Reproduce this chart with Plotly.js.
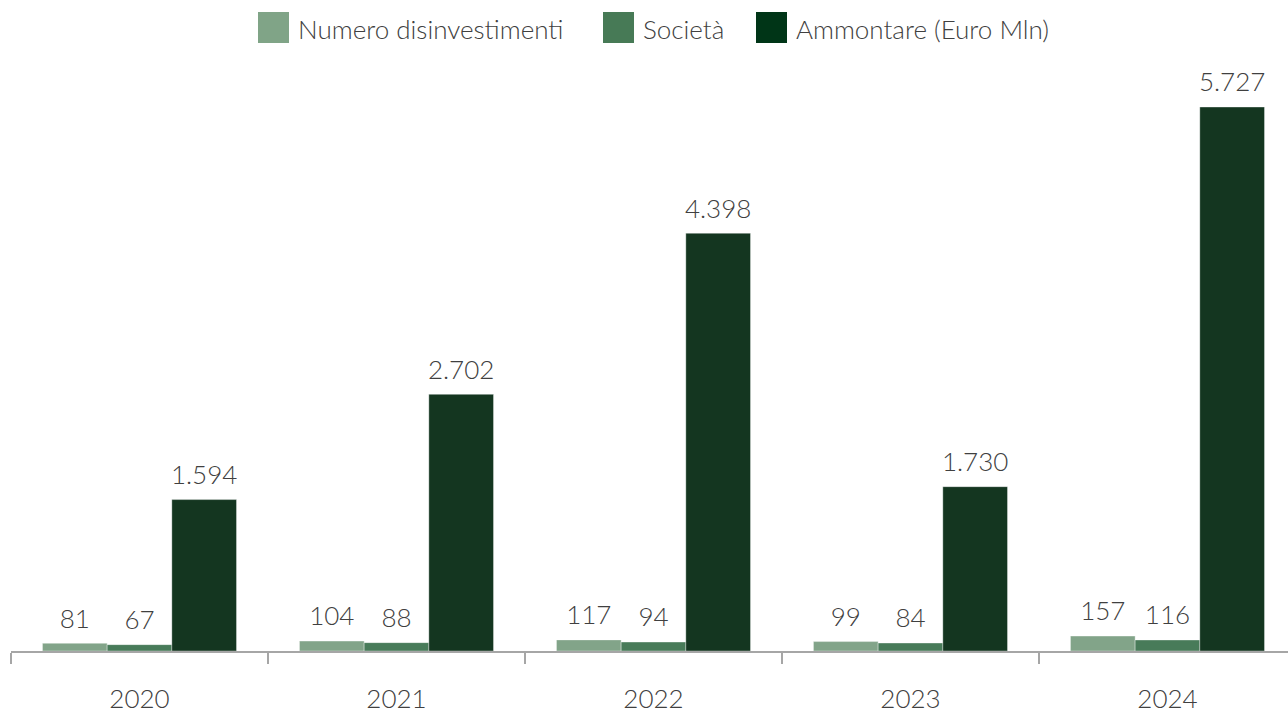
<!DOCTYPE html>
<html>
<head>
<meta charset="utf-8">
<script src="https://cdn.plot.ly/plotly-3.0.1.min.js"></script>
<style>
  html, body { margin: 0; padding: 0; background: #ffffff; }
  #chart { width: 1288px; height: 715px; }
</style>
</head>
<body>
<div id="chart"></div>
<script>
const years = ['2020', '2021', '2022', '2023', '2024'];
const seriesNames = ['Numero disinvestimenti', 'Società', 'Ammontare (Euro Mln)'];
const numeroDisinvestimenti = [81, 104, 117, 99, 157];
const societa = [67, 88, 94, 84, 116];
const ammontare = [1594, 2702, 4398, 1730, 5727];
const seriesValues = [numeroDisinvestimenti, societa, ammontare];
const seriesColors = ['#82A489', '#487B59', '#143620'];
const legendColors = ['#80A487', '#477A56', '#003517'];

const FONT = 'Lato, "Open Sans", sans-serif';
const TEXT_COLOR = '#404040';
const FS = 26;
const GAP = 0.245;

// page geometry (pixels) used for the legend placement
const W = 1288, H = 715;
const M = { l: 11, r: 0, t: 60, b: 64 };
const plotW = W - M.l - M.r, plotH = H - M.t - M.b;
const pxToPaperX = px => (px - M.l) / plotW;
const pxToPaperY = py => (H - M.b - py) / plotH;
const legendSquareLeft = [258, 603, 756];
const legendCenterY = 27.5;
const legendSquare = 31;
const legendTextGap = 10;

const barTraces = seriesValues.map((vals, i) => ({
  type: 'bar',
  name: seriesNames[i],
  x: years,
  y: vals,
  marker: { color: seriesColors[i], line: { color: 'rgba(255,255,255,0.35)', width: 1 } },
  hoverinfo: 'skip',
  showlegend: false
}));

const labelTraces = seriesValues.map((vals, i) => ({
  type: 'scatter',
  mode: 'markers+text',
  x: years,
  y: vals,
  texttemplate: '%{y:,.0f}',
  textposition: 'top center',
  textfont: { family: FONT, size: FS, color: TEXT_COLOR, weight: 300 },
  marker: { size: 13, opacity: 0 },
  cliponaxis: false,
  hoverinfo: 'skip',
  showlegend: false
}));

const legendShapes = seriesNames.map((n, i) => ({
  type: 'rect',
  xref: 'paper', yref: 'paper',
  xsizemode: 'pixel', ysizemode: 'pixel',
  xanchor: pxToPaperX(legendSquareLeft[i]),
  yanchor: pxToPaperY(legendCenterY),
  x0: 0, x1: legendSquare,
  y0: -legendSquare / 2, y1: legendSquare / 2,
  fillcolor: legendColors[i],
  line: { width: 0 },
  layer: 'above'
}));

const legendLabels = seriesNames.map((n, i) => ({
  text: n,
  xref: 'paper', yref: 'paper',
  x: pxToPaperX(legendSquareLeft[i] + legendSquare + legendTextGap - 2),
  y: pxToPaperY(legendCenterY + 1),
  xanchor: 'left', yanchor: 'middle',
  showarrow: false,
  borderpad: 0,
  font: { family: FONT, size: FS, color: TEXT_COLOR, weight: 300 }
}));

const layout = {
  width: W,
  height: H,
  margin: M,
  paper_bgcolor: '#ffffff',
  plot_bgcolor: '#ffffff',
  separators: ',.',
  font: { family: FONT, size: FS, color: TEXT_COLOR, weight: 300 },
  barmode: 'group',
  bargap: GAP,
  bargroupgap: 0,
  scattermode: 'group',
  scattergap: GAP,
  showlegend: false,
  shapes: legendShapes,
  annotations: legendLabels,
  xaxis: {
    type: 'category',
    range: [-0.5, 4.469],
    showline: true, linecolor: '#a6a6a6', linewidth: 2,
    ticks: 'outside', tickson: 'boundaries', ticklen: 11, tickwidth: 2, tickcolor: '#a6a6a6',
    ticklabelstandoff: 24,
    showgrid: false, zeroline: false,
    tickfont: { family: FONT, size: FS, color: TEXT_COLOR, weight: 300 },
    fixedrange: true
  },
  yaxis: {
    visible: false,
    range: [0, 6222],
    showgrid: false, zeroline: false,
    fixedrange: true
  }
};

Plotly.newPlot('chart', barTraces.concat(labelTraces), layout, { displayModeBar: false, staticPlot: true });
</script>
</body>
</html>
